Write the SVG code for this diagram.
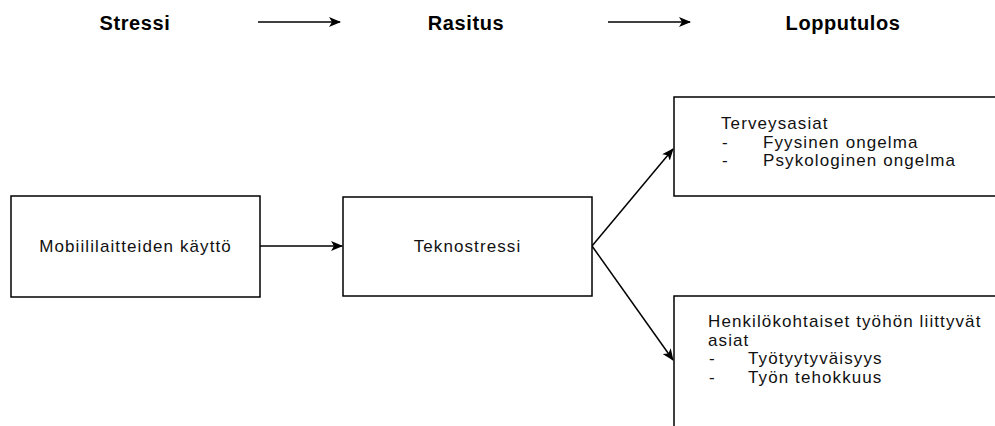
<svg xmlns="http://www.w3.org/2000/svg" width="995" height="426" viewBox="0 0 995 426">
<style>
.box{fill:#fff;stroke:#000;stroke-width:1.5}
.t{font-family:"Liberation Sans",Arial,sans-serif;font-size:17px;letter-spacing:1.1px;fill:#111}
.h{font-family:"Liberation Sans",Arial,sans-serif;font-size:20px;letter-spacing:0.6px;font-weight:bold;fill:#000;text-anchor:middle}
.c{stroke:#000;stroke-width:1.5;fill:none;marker-end:url(#ah)}
</style>
<defs>
<marker id="ah" viewBox="0 0 12 10" refX="11" refY="5" markerWidth="12" markerHeight="10" markerUnits="userSpaceOnUse" orient="auto">
<path d="M0,0 L12,5 L0,10 L3,5 z" fill="#000"/>
</marker>
</defs>
<rect width="995" height="426" fill="#fff"/>
<g id="header">
<text class="h" x="135" y="30">Stressi</text>
<text class="h" x="466" y="30">Rasitus</text>
<text class="h" x="843" y="30">Lopputulos</text>
</g>
<g id="connectors">
<line class="c" x1="258" y1="22" x2="340" y2="22"/>
<line class="c" x1="608" y1="22" x2="690" y2="22"/>
<line class="c" x1="260" y1="246" x2="342" y2="246"/>
<line class="c" x1="592" y1="246" x2="673" y2="149"/>
<line class="c" x1="592" y1="246" x2="673" y2="360"/>
</g>
<g id="mobiili">
<rect class="box" x="11" y="196" width="249" height="101"/>
<text class="t" x="135.5" y="252" text-anchor="middle">Mobiililaitteiden käyttö</text>
</g>
<g id="teknostressi">
<rect class="box" x="343" y="197" width="249" height="99"/>
<text class="t" x="467.5" y="252" text-anchor="middle">Teknostressi</text>
</g>
<g id="terveys">
<rect class="box" x="674" y="97" width="340" height="99"/>
<text class="t" x="721" y="129">Terveysasiat</text>
<text class="t" x="722" y="147.5">-</text>
<text class="t" x="763" y="147.5">Fyysinen ongelma</text>
<text class="t" x="722" y="166">-</text>
<text class="t" x="763" y="166">Psykologinen ongelma</text>
</g>
<g id="henkilo">
<rect class="box" x="674" y="296" width="340" height="150"/>
<text class="t" x="708" y="327">Henkilökohtaiset työhön liittyvät</text>
<text class="t" x="708" y="345.5">asiat</text>
<text class="t" x="709" y="364">-</text>
<text class="t" x="748" y="364">Työtyytyväisyys</text>
<text class="t" x="709" y="382.5">-</text>
<text class="t" x="748" y="382.5">Työn tehokkuus</text>
</g>
</svg>
